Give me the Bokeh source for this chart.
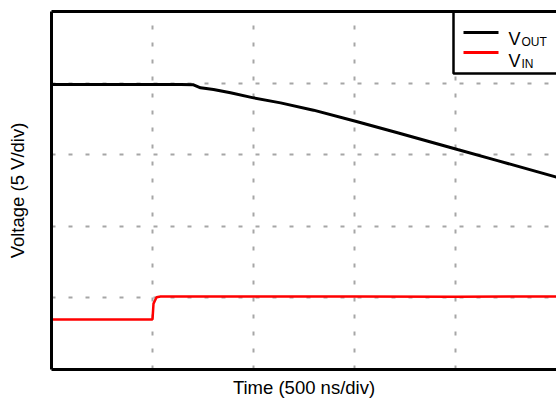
from bokeh.plotting import figure
from bokeh.models import Range1d, FixedTicker, BoxAnnotation, Label, LinearAxis
from bokeh.embed import file_html
from bokeh.resources import INLINE

# ---- data (time in ns, voltage in V) ----
t_out = [0, 640, 703, 738, 802, 886, 1000, 1134, 1297, 1505, 1713, 2010, 2208, 2500]
v_out = [19.9, 19.9, 19.88, 19.67, 19.55, 19.32, 18.97, 18.62, 18.11, 17.34, 16.53, 15.36, 14.59, 13.43]
t_in = [0, 500, 505, 520, 540, 1000, 1500, 2000, 2500]
v_in = [3.5, 3.5, 4.6, 5.05, 5.1, 5.1, 5.1, 5.08, 5.1]
x_grid_ticks = [500, 1000, 1500, 2000]
y_grid_ticks = [5, 10, 15, 20]
legend_labels = [("V", "OUT", "black"), ("V", "IN", "red")]

FONT = "Liberation Sans"
X_END = 2500
Y_END = 25

p = figure(width=556, height=401, output_backend="svg", toolbar_location=None,
           x_range=Range1d(0, X_END), y_range=Range1d(0, Y_END),
           min_border_left=51, min_border_right=0, min_border_top=11, min_border_bottom=32)
p.background_fill_color = "white"
p.border_fill_color = "white"
p.outline_line_color = None

bottom_axis = p.below[0]
left_axis = p.left[0]
top_axis = LinearAxis()
p.add_layout(top_axis, "above")

for ax in (bottom_axis, left_axis, top_axis):
    ax.ticker = FixedTicker(ticks=[])
    ax.major_label_text_font_size = "0px"
    ax.axis_line_color = "black"
    ax.axis_line_width = 3
    ax.major_tick_line_color = None
    ax.minor_tick_line_color = None
    ax.major_tick_out = 0
    ax.major_tick_in = 0
    ax.minor_tick_out = 0
    ax.minor_tick_in = 0
    ax.major_label_standoff = 0
    ax.axis_label_standoff = 0
    ax.axis_label_text_font = FONT
    ax.axis_label_text_font_style = "normal"
    ax.axis_label_text_font_size = "18.5px"
    ax.axis_label_text_color = "black"
bottom_axis.axis_label = "Time (500 ns/div)"
left_axis.axis_label = "Voltage (5 V/div)"
bottom_axis.axis_label_standoff = 7
left_axis.axis_label_standoff = 24

p.xgrid.ticker = FixedTicker(ticks=x_grid_ticks)
p.ygrid.ticker = FixedTicker(ticks=y_grid_ticks)
p.grid.grid_line_color = "#a6a6a6"
p.grid.grid_line_width = 2
p.grid.grid_line_dash = "4 13"

p.line(t_out, v_out, line_color="black", line_width=3)
p.line(t_in, v_in, line_color="red", line_width=2.5)

# ---- manual legend (for subscripts) ----
NS_PER_PX = 500 / 101.0
V_PER_PX = 25 / 358.0
def dx(px):  # page x -> ns
    return (px - 51) * NS_PER_PX
def dy(py):  # page y -> V
    return (369 - py) * V_PER_PX

box = BoxAnnotation(left=dx(453), right=X_END + 50, bottom=dy(73), top=Y_END + 2,
                    fill_color="white", fill_alpha=1.0, line_color="black",
                    line_alpha=1.0, line_width=2.5, level="underlay")
p.add_layout(box)

for i, (main, sub, col) in enumerate(legend_labels):
    ly = 32 + 20 * i
    p.line([dx(463), dx(498)], [dy(ly), dy(ly)], line_color=col, line_width=3)
    p.add_layout(Label(x=dx(508), y=dy(38 + 22 * i), text=main, text_font=FONT,
                       text_font_size="18px", text_baseline="alphabetic", text_color="black"))
    p.add_layout(Label(x=dx(521), y=dy(41 + 22 * i), text=sub, text_font=FONT,
                       text_font_size="12px", text_baseline="alphabetic", text_color="black"))

open("out.html", "w").write(file_html(p, INLINE))
